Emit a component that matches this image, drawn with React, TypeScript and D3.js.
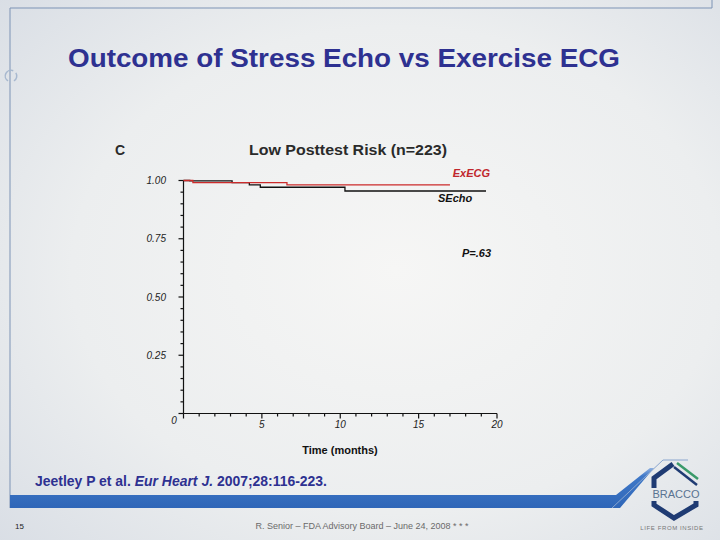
import React, { useRef, useEffect } from 'react';
import * as d3 from 'd3';

// Kaplan-Meier steps (time in months, survival fraction)
const sechoTimes = [0, 0.4, 3.1, 4.2, 4.9, 10.3, 19.3];
const sechoSurv = [1.0, 0.998, 0.991, 0.981, 0.971, 0.955, 0.955];
const execgTimes = [0, 0.6, 6.6, 17.0];
const execgSurv = [1.0, 0.991, 0.981, 0.981];

const xTickLabels = [5, 10, 15, 20];
const yTickLabels = [0.25, 0.5, 0.75, 1.0];

const FONT = '"Liberation Sans", Arial, sans-serif';
const NAVY = '#2e3191';

function App() {
  const svgRef = useRef<SVGSVGElement>(null);

  useEffect(() => {
    const svg = d3.select(svgRef.current);
    svg.selectAll('*').remove();
    const width = 720;
    const height = 540;

    const defs = svg.append('defs');
    const bg = defs.append('radialGradient').attr('id', 'bg').attr('cx', '55%').attr('cy', '50%').attr('r', '75%');
    bg.append('stop').attr('offset', '0%').attr('stop-color', '#f6f6f5');
    bg.append('stop').attr('offset', '60%').attr('stop-color', '#eceeef');
    bg.append('stop').attr('offset', '100%').attr('stop-color', '#d9dee5');

    const band = defs.append('linearGradient').attr('id', 'band').attr('x1', 0).attr('y1', 0).attr('x2', 0).attr('y2', 1);
    band.append('stop').attr('offset', '0%').attr('stop-color', '#8fb0e0');
    band.append('stop').attr('offset', '20%').attr('stop-color', '#3f78c8');
    band.append('stop').attr('offset', '100%').attr('stop-color', '#2f66b8');

    svg.append('rect').attr('width', width).attr('height', height).attr('fill', 'url(#bg)');

    // slide frame
    svg.append('path')
      .attr('d', 'M10,508 L10,8 L712,8 L712,0')
      .attr('fill', 'none')
      .attr('stroke', '#7d93b5')
      .attr('stroke-width', 1);

    // bottom band
    svg.append('polygon')
      .attr('points', '10,495 616,495 650,468 654,468 620,508 10,508')
      .attr('fill', 'url(#band)');
    svg.append('polyline')
      .attr('points', '612,508 663,460 688,460')
      .attr('fill', 'none')
      .attr('stroke', '#8aa6cf')
      .attr('stroke-width', 1);

    // left small icon
    const icon = svg.append('g').attr('transform', 'translate(11,76)');
    icon.append('path').attr('d', d3.arc()({ innerRadius: 5, outerRadius: 6.5, startAngle: -2.6, endAngle: 0.4 }) as string).attr('fill', '#a7b8cf');
    icon.append('path').attr('d', d3.arc()({ innerRadius: 5, outerRadius: 6.5, startAngle: 1.0, endAngle: 2.6 }) as string).attr('fill', '#a7b8cf');

    // title
    svg.append('text')
      .attr('x', 68).attr('y', 67)
      .attr('font-family', FONT).attr('font-weight', 'bold').attr('font-size', 26)
      .attr('fill', NAVY)
      .attr('textLength', 552).attr('lengthAdjust', 'spacingAndGlyphs')
      .text('Outcome of Stress Echo vs Exercise ECG');

    // panel letter and subtitle
    svg.append('text')
      .attr('x', 115).attr('y', 155)
      .attr('font-family', FONT).attr('font-weight', 'bold').attr('font-size', 14)
      .attr('fill', '#2a2a2a')
      .text('C');
    svg.append('text')
      .attr('x', 249).attr('y', 155)
      .attr('font-family', FONT).attr('font-weight', 'bold').attr('font-size', 14)
      .attr('fill', '#2a2a2a')
      .attr('textLength', 198).attr('lengthAdjust', 'spacingAndGlyphs')
      .text('Low Posttest Risk (n=223)');

    // scales
    const x = d3.scaleLinear().domain([0, 20]).range([183.5, 497]);
    const y = d3.scaleLinear().domain([0, 1]).range([413.5, 180.5]);

    const axes = svg.append('g').attr('stroke', '#111').attr('stroke-width', 1.2);
    // y axis line and ticks
    axes.append('line').attr('x1', x(0)).attr('x2', x(0)).attr('y1', y(1)).attr('y2', y(0));
    axes.selectAll('.ytick')
      .data(d3.range(0, 1.0001, 0.05))
      .join('line')
      .attr('class', 'ytick')
      .attr('x1', (d) => (Math.abs((d * 4) - Math.round(d * 4)) < 1e-6 ? x(0) - 5 : x(0) - 3))
      .attr('x2', x(0))
      .attr('y1', (d) => y(d))
      .attr('y2', (d) => y(d));
    // x axis line and ticks
    axes.append('line').attr('x1', x(0)).attr('x2', x(20)).attr('y1', y(0)).attr('y2', y(0));
    axes.selectAll('.xtick')
      .data(d3.range(0, 21, 1))
      .join('line')
      .attr('class', 'xtick')
      .attr('x1', (d) => x(d))
      .attr('x2', (d) => x(d))
      .attr('y1', y(0))
      .attr('y2', (d) => (d % 5 === 0 ? y(0) + 5 : y(0) + 3));

    // tick labels
    svg.selectAll('.ylab')
      .data(yTickLabels)
      .join('text')
      .attr('class', 'ylab')
      .attr('x', 166).attr('y', (d) => y(d) + 3.5)
      .attr('text-anchor', 'end')
      .attr('font-family', FONT).attr('font-style', 'italic').attr('font-size', 10)
      .attr('fill', '#222')
      .text((d) => d.toFixed(2));
    svg.append('text')
      .attr('x', 174).attr('y', 424)
      .attr('text-anchor', 'middle')
      .attr('font-family', FONT).attr('font-style', 'italic').attr('font-size', 10)
      .attr('fill', '#222')
      .text('0');
    svg.selectAll('.xlab')
      .data(xTickLabels)
      .join('text')
      .attr('class', 'xlab')
      .attr('x', (d) => x(d)).attr('y', 428)
      .attr('text-anchor', 'middle')
      .attr('font-family', FONT).attr('font-style', 'italic').attr('font-size', 10)
      .attr('fill', '#222')
      .text((d) => d);

    svg.append('text')
      .attr('x', 340).attr('y', 454)
      .attr('text-anchor', 'middle')
      .attr('font-family', FONT).attr('font-weight', 'bold').attr('font-size', 11)
      .attr('fill', '#111')
      .text('Time (months)');

    // survival curves
    const line = d3.line<[number, number]>()
      .x((d) => x(d[0]))
      .y((d) => y(d[1]))
      .curve(d3.curveStepAfter);

    const secho = sechoTimes.map((t, i) => [t, sechoSurv[i]] as [number, number]);
    const execg = execgTimes.map((t, i) => [t, execgSurv[i]] as [number, number]);

    svg.append('path')
      .attr('d', line(secho))
      .attr('fill', 'none')
      .attr('stroke', '#111')
      .attr('stroke-width', 1.3);
    svg.append('path')
      .attr('d', line(execg))
      .attr('fill', 'none')
      .attr('stroke', '#cc2b2b')
      .attr('stroke-width', 1.3);

    svg.append('text')
      .attr('x', 490).attr('y', 177)
      .attr('text-anchor', 'end')
      .attr('font-family', FONT).attr('font-style', 'italic').attr('font-weight', 'bold').attr('font-size', 11)
      .attr('fill', '#c0272d')
      .text('ExECG');
    svg.append('text')
      .attr('x', 438).attr('y', 202)
      .attr('font-family', FONT).attr('font-style', 'italic').attr('font-weight', 'bold').attr('font-size', 11)
      .attr('fill', '#111')
      .text('SEcho');
    svg.append('text')
      .attr('x', 462).attr('y', 257)
      .attr('font-family', FONT).attr('font-style', 'italic').attr('font-weight', 'bold').attr('font-size', 11)
      .attr('fill', '#111')
      .text('P=.63');

    // citation
    const cite = svg.append('text')
      .attr('x', 35).attr('y', 486)
      .attr('font-family', FONT).attr('font-weight', 'bold').attr('font-size', 14)
      .attr('fill', NAVY)
      .attr('textLength', 292).attr('lengthAdjust', 'spacingAndGlyphs');
    cite.append('tspan').text('Jeetley P et al. ');
    cite.append('tspan').attr('font-style', 'italic').text('Eur Heart J.');
    cite.append('tspan').text(' 2007;28:116-223.');

    // footer
    svg.append('text')
      .attr('x', 15).attr('y', 529)
      .attr('font-family', FONT).attr('font-size', 8)
      .attr('fill', '#222')
      .text('15');
    svg.append('text')
      .attr('x', 362).attr('y', 529)
      .attr('text-anchor', 'middle')
      .attr('font-family', FONT).attr('font-size', 9)
      .attr('fill', '#6a6a6a')
      .text('R. Senior \u2013 FDA Advisory Board \u2013 June 24, 2008 * * *');

    // BRACCO logo
    const logo = svg.append('g');
    logo.append('polyline')
      .attr('points', '654,488 654,478 673,464')
      .attr('fill', 'none').attr('stroke', '#1f3b73').attr('stroke-width', 5);
    logo.append('line')
      .attr('x1', 677).attr('y1', 463).attr('x2', 698).attr('y2', 479)
      .attr('stroke', '#3a9a6a').attr('stroke-width', 2.5);
    logo.append('line')
      .attr('x1', 674).attr('y1', 467).attr('x2', 697).attr('y2', 485)
      .attr('stroke', '#1f3b73').attr('stroke-width', 2.5);
    logo.append('text')
      .attr('x', 676).attr('y', 498)
      .attr('text-anchor', 'middle')
      .attr('font-family', FONT).attr('font-size', 11)
      .attr('fill', '#5a7391')
      .text('BRACCO');
    logo.append('polyline')
      .attr('points', '654,501 654,505 674,518 696,505 696,501')
      .attr('fill', 'none').attr('stroke', '#1f3b73').attr('stroke-width', 5);
    logo.append('text')
      .attr('x', 672).attr('y', 530)
      .attr('text-anchor', 'middle')
      .attr('font-family', FONT).attr('font-size', 6)
      .attr('letter-spacing', 0.6)
      .attr('fill', '#777')
      .text('LIFE FROM INSIDE');
  }, []);

  return (
    <div style={{ position: 'absolute', left: 0, top: 0, width: 720, height: 540 }}>
      <svg ref={svgRef} width={720} height={540} style={{ display: 'block' }}></svg>
    </div>
  );
}

export default App;
